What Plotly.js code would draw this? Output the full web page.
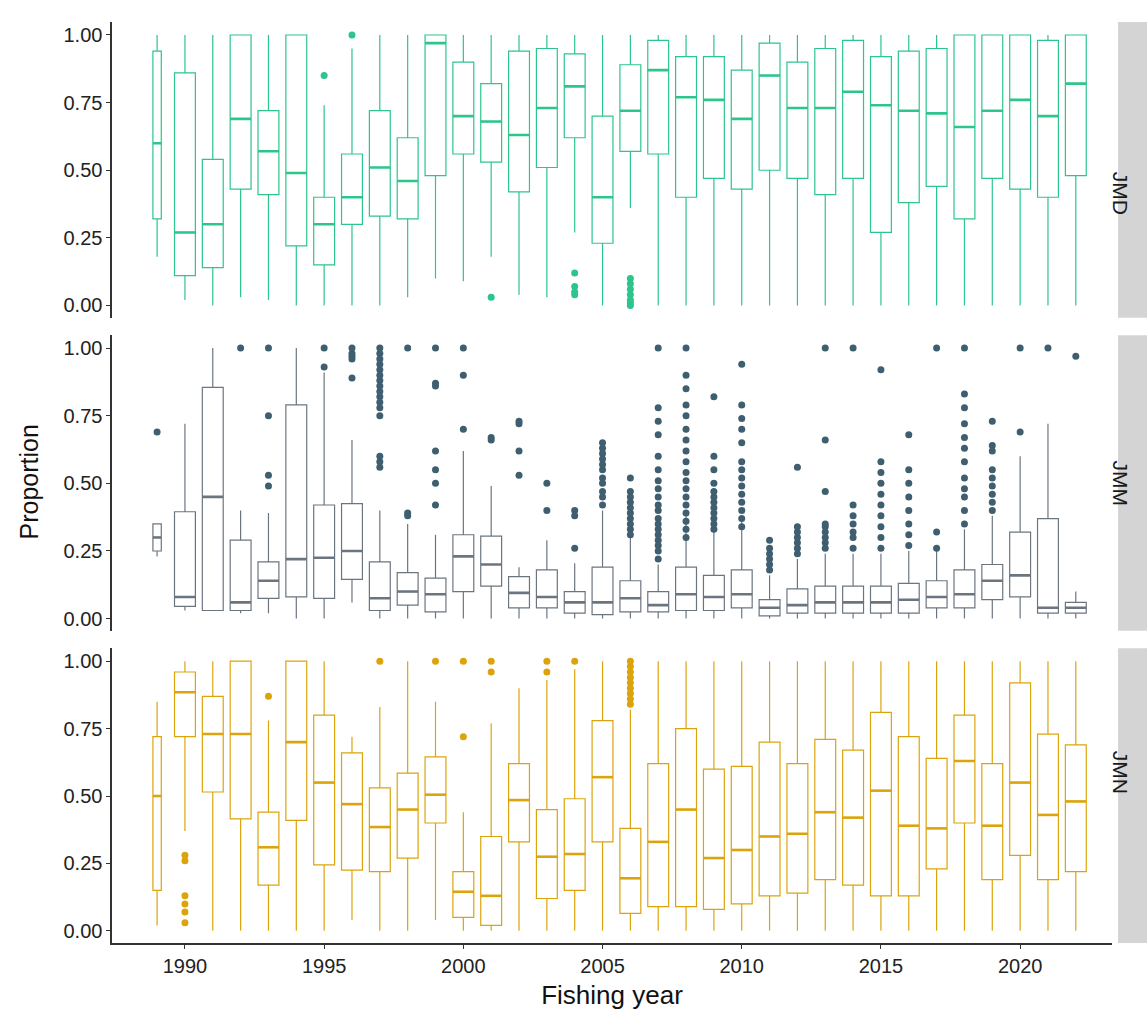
<!DOCTYPE html>
<html>
<head>
<meta charset="utf-8">
<script src="https://cdn.plot.ly/plotly-3.0.1.min.js"></script>
<style>body{margin:0;background:#fff}#plot{width:1147px;height:1014px}</style>
</head>
<body>
<div id="plot"></div>
<script>
const years = [1989,1990,1991,1992,1993,1994,1995,1996,1997,1998,1999,2000,2001,2002,2003,2004,2005,2006,2007,2008,2009,2010,2011,2012,2013,2014,2015,2016,2017,2018,2019,2020,2021,2022];
const panels = ["JMD", "JMM", "JMN"];

// JMD
const jmdQ1 = [0.32,0.11,0.14,0.43,0.41,0.22,0.15,0.30,0.33,0.32,0.48,0.56,0.53,0.42,0.51,0.62,0.23,0.57,0.56,0.40,0.47,0.43,0.50,0.47,0.41,0.47,0.27,0.38,0.44,0.32,0.47,0.43,0.40,0.48];
const jmdMed = [0.60,0.27,0.30,0.69,0.57,0.49,0.30,0.40,0.51,0.46,0.97,0.70,0.68,0.63,0.73,0.81,0.40,0.72,0.87,0.77,0.76,0.69,0.85,0.73,0.73,0.79,0.74,0.72,0.71,0.66,0.72,0.76,0.70,0.82];
const jmdQ3 = [0.94,0.86,0.54,1.0,0.72,1.0,0.40,0.56,0.72,0.62,1.0,0.90,0.82,0.94,0.95,0.93,0.70,0.89,0.98,0.92,0.92,0.87,0.97,0.90,0.95,0.98,0.92,0.94,0.95,1.0,1.0,1.0,0.98,1.0];
const jmdLo = [0.18,0.02,0,0.03,0.02,0,0,0,0,0.03,0.10,0.09,0.18,0.04,0.03,0.27,0,0.36,0,0,0,0,0,0,0,0,0,0,0,0,0,0,0,0];
const jmdHi = [1,1,1,1,1,1,0.74,0.95,1,1,1,1,1,1,1,1,1,1,1,1,1,1,1,1,1,1,1,1,1,1,1,1,1,1];
const jmdOut = [[],[],[],[],[],[],[0.85],[1.0],[],[],[],[],[0.03],[],[],[0.12,0.07,0.05,0.04],[],[0.10,0.08,0.06,0.04,0.02,0.01,0.0],[],[],[],[],[],[],[],[],[],[],[],[],[],[],[],[]];

// JMM
const jmmQ1 = [0.25,0.045,0.03,0.03,0.075,0.08,0.075,0.145,0.03,0.05,0.025,0.10,0.12,0.04,0.04,0.02,0.015,0.025,0.025,0.03,0.03,0.04,0.01,0.02,0.02,0.02,0.02,0.02,0.04,0.04,0.07,0.08,0.02,0.02];
const jmmMed = [0.30,0.08,0.45,0.06,0.14,0.22,0.225,0.25,0.075,0.10,0.09,0.23,0.20,0.095,0.08,0.06,0.06,0.075,0.05,0.09,0.08,0.09,0.04,0.05,0.06,0.06,0.06,0.07,0.08,0.09,0.14,0.16,0.04,0.04];
const jmmQ3 = [0.35,0.395,0.855,0.29,0.21,0.79,0.42,0.425,0.21,0.17,0.15,0.31,0.305,0.155,0.18,0.10,0.19,0.14,0.10,0.19,0.16,0.18,0.07,0.11,0.12,0.12,0.12,0.13,0.14,0.18,0.20,0.32,0.37,0.06];
const jmmLo = [0.23,0.03,0.03,0.02,0.02,0,0,0.06,0,0,0,0,0,0,0,0,0,0,0,0,0,0,0,0,0,0,0,0,0,0,0,0,0,0];
const jmmHi = [0.35,0.72,1.0,0.40,0.39,1.0,0.91,0.66,0.40,0.35,0.31,0.62,0.49,0.19,0.29,0.205,0.40,0.30,0.20,0.40,0.32,0.36,0.16,0.22,0.24,0.24,0.24,0.25,0.25,0.33,0.38,0.60,0.72,0.10];
const jmmOut = [
  [0.69],[],[],[1.0],[0.49,0.53,0.75,1.0],[],[0.93,1.0],[0.89,0.96,0.97,0.98,1.0],
  [0.56,0.58,0.60,0.75,0.78,0.80,0.82,0.84,0.86,0.88,0.90,0.92,0.94,0.96,0.98,1.0],
  [0.38,0.39,1.0],[0.42,0.50,0.55,0.62,0.86,0.87,1.0],[0.70,0.90,1.0],[0.66,0.67],
  [0.53,0.62,0.72,0.73],[0.40,0.50],[0.26,0.38,0.40],
  [0.42,0.45,0.47,0.50,0.52,0.55,0.57,0.59,0.61,0.63,0.65],
  [0.31,0.33,0.35,0.37,0.39,0.41,0.43,0.45,0.47,0.52],
  [0.22,0.25,0.27,0.29,0.31,0.33,0.35,0.37,0.40,0.42,0.45,0.48,0.51,0.55,0.60,0.68,0.73,0.78,1.0],
  [0.30,0.33,0.36,0.39,0.42,0.45,0.48,0.51,0.54,0.58,0.62,0.66,0.70,0.75,0.79,0.85,0.90,1.0],
  [0.33,0.35,0.37,0.39,0.41,0.43,0.45,0.47,0.50,0.55,0.60,0.82],
  [0.34,0.37,0.40,0.43,0.46,0.49,0.52,0.55,0.58,0.65,0.70,0.74,0.79,0.94],
  [0.18,0.20,0.22,0.24,0.26,0.29],
  [0.24,0.26,0.28,0.30,0.32,0.34,0.56],
  [0.26,0.28,0.30,0.32,0.34,0.35,0.47,0.66,1.0],
  [0.26,0.30,0.32,0.35,0.38,0.42,1.0],
  [0.26,0.30,0.34,0.38,0.42,0.46,0.50,0.54,0.58,0.92],
  [0.27,0.31,0.35,0.40,0.45,0.50,0.55,0.68],
  [0.26,0.32,1.0],
  [0.35,0.40,0.45,0.48,0.52,0.58,0.63,0.67,0.72,0.78,0.83,1.0],
  [0.40,0.43,0.46,0.49,0.52,0.55,0.62,0.64,0.73],
  [0.69,1.0],[1.0],[0.97]
];

// JMN
const jmnQ1 = [0.15,0.72,0.515,0.415,0.17,0.41,0.245,0.225,0.22,0.27,0.40,0.05,0.02,0.33,0.12,0.15,0.33,0.065,0.09,0.09,0.08,0.10,0.13,0.14,0.19,0.17,0.13,0.13,0.23,0.40,0.19,0.28,0.19,0.22];
const jmnMed = [0.50,0.885,0.73,0.73,0.31,0.70,0.55,0.47,0.385,0.45,0.505,0.145,0.13,0.485,0.275,0.285,0.57,0.195,0.33,0.45,0.27,0.30,0.35,0.36,0.44,0.42,0.52,0.39,0.38,0.63,0.39,0.55,0.43,0.48];
const jmnQ3 = [0.72,0.96,0.87,1.0,0.44,1.0,0.80,0.66,0.53,0.585,0.645,0.22,0.35,0.62,0.45,0.49,0.78,0.38,0.62,0.75,0.60,0.61,0.70,0.62,0.71,0.67,0.81,0.72,0.64,0.80,0.62,0.92,0.73,0.69];
const jmnLo = [0.02,0.37,0,0,0,0,0,0.04,0,0,0.04,0,0,0,0,0,0,0,0,0,0,0,0,0,0,0,0,0,0,0,0,0,0,0];
const jmnHi = [0.85,1,1,1,0.78,1,1,0.72,0.83,1,0.85,0.44,0.77,0.90,0.93,0.97,1,0.82,1,1,1,1,1,1,1,1,1,1,1,1,1,1,1,1];
const jmnOut = [[],[0.03,0.07,0.10,0.13,0.26,0.28],[],[],[0.87],[],[],[],[1.0],[],[1.0],[0.72,1.0],[0.96,1.0],[],[0.96,1.0],[1.0],[],[0.84,0.86,0.88,0.90,0.92,0.94,0.96,0.98,1.0],[],[],[],[],[],[],[],[],[],[],[],[],[],[],[],[]];

const stats = [
  { q1: jmdQ1, med: jmdMed, q3: jmdQ3, lo: jmdLo, hi: jmdHi, out: jmdOut, line: "#2cc58c", pt: "#2cc58c" },
  { q1: jmmQ1, med: jmmMed, q3: jmmQ3, lo: jmmLo, hi: jmmHi, out: jmmOut, line: "#6b7580", pt: "#3f5f70" },
  { q1: jmnQ1, med: jmnMed, q3: jmnQ3, lo: jmnLo, hi: jmnHi, out: jmnOut, line: "#dca40c", pt: "#dca40c" }
];

const BOX_W = 0.75;
const NARROW_W = 0.3;
const yaxes = ["y", "y2", "y3"];
const FONT = "Liberation Sans, Arial, sans-serif";

const data = [];
stats.forEach((s, p) => {
  const ya = yaxes[p];
  const groups = [
    { idx: years.map((_, i) => i).filter((i) => i > 0), w: BOX_W },
    { idx: [0], w: NARROW_W }
  ];
  groups.forEach((g) => {
    data.push({
      type: "box",
      x: g.idx.map((i) => years[i]),
      q1: g.idx.map((i) => s.q1[i]),
      median: g.idx.map((i) => s.med[i]),
      q3: g.idx.map((i) => s.q3[i]),
      lowerfence: g.idx.map((i) => s.lo[i]),
      upperfence: g.idx.map((i) => s.hi[i]),
      width: g.w,
      whiskerwidth: 0,
      fillcolor: "rgba(255,255,255,0)",
      line: { color: s.line, width: 1.2 },
      yaxis: ya,
      xaxis: "x",
      hoverinfo: "skip"
    });
  });
  // thicker median bars, like ggplot
  const mx = [], my = [];
  years.forEach((yr, i) => {
    const w = (i === 0 ? NARROW_W : BOX_W) / 2;
    mx.push(yr - w, yr + w, null);
    my.push(s.med[i], s.med[i], null);
  });
  data.push({ type: "scatter", mode: "lines", x: mx, y: my, yaxis: ya, line: { color: s.line, width: 2.6 }, hoverinfo: "skip" });
  const ox = [], oy = [];
  s.out.forEach((vals, i) => vals.forEach((v) => { ox.push(years[i]); oy.push(v); }));
  data.push({ type: "scatter", mode: "markers", x: ox, y: oy, yaxis: ya, marker: { color: s.pt, size: 7 }, hoverinfo: "skip" });
});

const axisFont = { family: FONT, size: 20, color: "#222" };
const yBase = {
  range: [-0.045, 1.048],
  tickvals: [0, 0.25, 0.5, 0.75, 1],
  ticktext: ["0.00", "0.25", "0.50", "0.75", "1.00"],
  showgrid: false, zeroline: false,
  showline: true, linecolor: "#333", linewidth: 1.6,
  ticks: "outside", ticklen: 4, tickcolor: "#333",
  tickfont: axisFont, anchor: "x"
};
const domains = [[0.679, 1], [0.339, 0.660], [0, 0.320]];

const layout = {
  width: 1147, height: 1014,
  margin: { l: 112, r: 35, t: 22, b: 71 },
  paper_bgcolor: "#fff", plot_bgcolor: "#fff",
  showlegend: false,
  xaxis: {
    range: [1987.38, 2023.3],
    tickvals: [1990, 1995, 2000, 2005, 2010, 2015, 2020],
    showgrid: false, zeroline: false,
    showline: true, linecolor: "#333", linewidth: 1.6,
    ticks: "outside", ticklen: 4, tickcolor: "#333",
    tickfont: axisFont, anchor: "y3",
    title: { text: "Fishing year", font: { family: FONT, size: 26, color: "#111" }, standoff: 10 }
  },
  yaxis: Object.assign({}, yBase, { domain: domains[0] }),
  yaxis2: Object.assign({}, yBase, { domain: domains[1] }),
  yaxis3: Object.assign({}, yBase, { domain: domains[2] }),
  shapes: domains.map((d) => ({
    type: "rect", xref: "paper", yref: "paper",
    x0: 1.006, x1: 1.04, y0: d[0], y1: d[1],
    fillcolor: "#d4d4d4", line: { width: 0 }
  })),
  annotations: panels.map((name, p) => ({
    text: name, xref: "paper", yref: "paper",
    x: 1.022, y: (domains[p][0] + domains[p][1]) / 2,
    showarrow: false, textangle: 90,
    font: { family: FONT, size: 21, color: "#1a1a1a" }
  })).concat([{
    text: "Proportion", xref: "paper", yref: "paper",
    x: -0.1, y: 0.5, showarrow: false, textangle: -90,
    font: { family: FONT, size: 25, color: "#111" }
  }])
};

Plotly.newPlot("plot", data, layout, { displayModeBar: false, staticPlot: true });
</script>
</body>
</html>
